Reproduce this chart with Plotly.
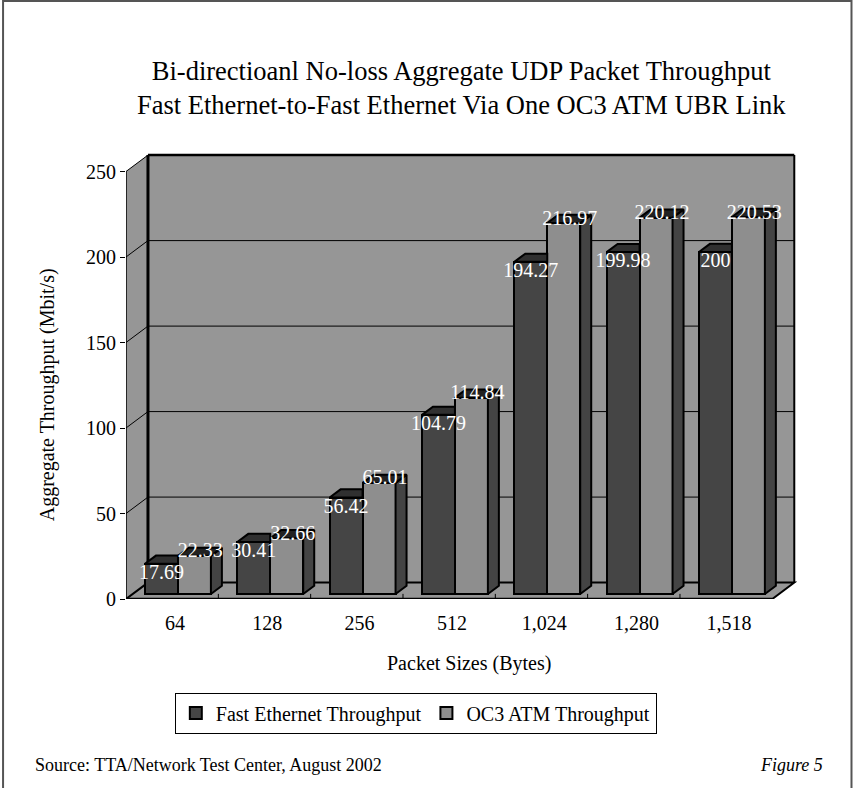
import plotly.graph_objects as go

# ---- data ----
packet_sizes = ["64", "128", "256", "512", "1,024", "1,280", "1,518"]
fast_ethernet = [17.69, 30.41, 56.42, 104.79, 194.27, 199.98, 200]
oc3_atm = [22.33, 32.66, 65.01, 114.84, 216.97, 220.12, 220.53]
y_ticks = [0, 50, 100, 150, 200, 250]

FONT = "Liberation Serif, serif"

# ---- pseudo-3D geometry (category units on x, value units on y) ----
N = len(packet_sizes)
WX, WY = 0.238, 9.6          # depth of the back wall
FX, FY = 0.0714, 2.9         # front face of the bars sits a bit inside the floor
DX, DY = 0.119, 4.8          # depth of each bar
BW = 0.357                   # width of each bar
DARK_L = 0.2056              # left edge of the first bar in a category
YMAX = y_ticks[-1]

dark_front = "#454545"
light_front = "#8e8e8e"
wall = "#969696"

fig = go.Figure()

# front faces of the bars
dark_x = [i + DARK_L + BW / 2 for i in range(N)]
light_x = [i + DARK_L + BW * 1.5 for i in range(N)]
fig.add_trace(go.Bar(
    x=dark_x, y=fast_ethernet, base=FY, width=BW,
    name="Fast Ethernet Throughput",
    marker=dict(color=dark_front, line=dict(color="black", width=2)),
    hoverinfo="skip"))
fig.add_trace(go.Bar(
    x=light_x, y=oc3_atm, base=FY, width=BW,
    name="OC3 ATM Throughput",
    marker=dict(color=light_front, line=dict(color="black", width=2)),
    hoverinfo="skip"))


def poly_trace(xs, ys, color):
    return go.Scatter(x=xs, y=ys, mode="lines", fill="toself", fillcolor=color,
                      line=dict(color="black", width=2), showlegend=False,
                      hoverinfo="skip")


# top faces of the dark bars (the part hidden by the taller light bar is left out)
tx, ty = [], []
for i, v in enumerate(fast_ethernet):
    xl = i + DARK_L
    xr = xl + BW
    t = v + FY
    tx += [xl, xr, xr, xl + DX, xl, None]
    ty += [t, t, t + DY, t + DY, t, None]
fig.add_trace(poly_trace(tx, ty, "#303030"))

# side and top faces of the light bars
sx, sy, ux, uy = [], [], [], []
for i, v in enumerate(oc3_atm):
    xl = i + DARK_L + BW
    xr = xl + BW
    t = v + FY
    sx += [xr, xr, xr + DX, xr + DX, xr, None]
    sy += [FY, t, t + DY, FY + DY, FY, None]
    ux += [xl, xr, xr + DX, xl + DX, xl, None]
    uy += [t, t, t + DY, t + DY, t, None]
fig.add_trace(poly_trace(sx, sy, "#444444"))
fig.add_trace(poly_trace(ux, uy, "#222222"))

# value labels
lbl_font = dict(family=FONT, size=20, color="white")
fig.add_trace(go.Scatter(
    x=dark_x, y=[v + FY - 6 for v in fast_ethernet], mode="text",
    text=[f"{v:g}" for v in fast_ethernet], textfont=lbl_font,
    showlegend=False, hoverinfo="skip"))
fig.add_trace(go.Scatter(
    x=[x + 0.064 for x in light_x], y=[v + FY + 2 for v in oc3_atm], mode="text",
    text=[f"{v:g}" for v in oc3_atm], textfont=lbl_font,
    showlegend=False, hoverinfo="skip"))

# ---- walls, floor and grid ----
shapes = []
# back wall
shapes.append(dict(type="rect", xref="x", yref="y", x0=WX, x1=N + WX, y0=WY, y1=YMAX + WY,
                   fillcolor=wall, line=dict(width=0), layer="below"))
# side wall
shapes.append(dict(type="path", xref="x", yref="y",
                   path=f"M0,0 L{WX},{WY} L{WX},{YMAX + WY} L0,{YMAX} Z",
                   fillcolor=wall, line=dict(width=0), layer="below"))
# floor
shapes.append(dict(type="path", xref="x", yref="y",
                   path=f"M0,0 L{N},0 L{N + WX},{WY} L{WX},{WY} Z",
                   fillcolor=wall, line=dict(color="black", width=2), layer="below"))
# grid lines on back and side walls
for v in y_ticks[1:-1]:
    shapes.append(dict(type="line", xref="x", yref="y", x0=WX, x1=N + WX,
                       y0=v + WY, y1=v + WY, line=dict(color="black", width=1), layer="below"))
for v in y_ticks[1:]:
    shapes.append(dict(type="line", xref="x", yref="y", x0=0, x1=WX,
                       y0=v, y1=v + WY, line=dict(color="black", width=1), layer="below"))
# wall edges
shapes.append(dict(type="line", xref="x", yref="y", x0=WX, x1=WX, y0=WY, y1=YMAX + WY,
                   line=dict(color="black", width=3), layer="below"))
shapes.append(dict(type="line", xref="x", yref="y", x0=WX, x1=N + WX, y0=YMAX + WY, y1=YMAX + WY,
                   line=dict(color="black", width=2.5), layer="below"))
shapes.append(dict(type="line", xref="x", yref="y", x0=N + WX, x1=N + WX, y0=WY, y1=YMAX + WY,
                   line=dict(color="black", width=2), layer="below"))
shapes.append(dict(type="line", xref="x", yref="y", x0=0, x1=0, y0=0, y1=YMAX,
                   line=dict(color="black", width=1.5), layer="below"))
# floor front edge and category ticks
shapes.append(dict(type="line", xref="x", yref="y", x0=0, x1=N, y0=0, y1=0,
                   line=dict(color="black", width=2.5), layer="below"))
for i in range(1, N):
    shapes.append(dict(type="line", xref="x", yref="y", x0=i, x1=i, y0=0, y1=3,
                       line=dict(color="black", width=1), layer="below"))
# outer frame (bottom edge runs past the page)
shapes.append(dict(type="rect", xref="paper", yref="paper", x0=-0.1824, x1=1.0764,
                   y0=-0.52, y1=1.3348, line=dict(color="#555555", width=2)))

annotations = [
    dict(text="Bi-directioanl No-loss Aggregate UDP Packet Throughput<br>"
              "Fast Ethernet-to-Fast Ethernet Via One OC3 ATM UBR Link",
         xref="paper", yref="paper", x=0.498, y=1.1406, xanchor="center", yanchor="middle",
         showarrow=False, font=dict(family=FONT, size=26.5, color="black")),
    dict(text="Aggregate Throughput (Mbit/s)", textangle=-90,
         xref="paper", yref="paper", x=-0.117, y=0.455, xanchor="center", yanchor="middle",
         showarrow=False, font=dict(family=FONT, size=20, color="black")),
    dict(text="Packet Sizes (Bytes)",
         xref="paper", yref="paper", x=0.5085, y=-0.143, xanchor="center", yanchor="middle",
         showarrow=False, font=dict(family=FONT, size=20, color="black")),
    dict(text="Source: TTA/Network Test Center, August 2002",
         xref="paper", yref="paper", x=-0.1379, y=-0.3705, xanchor="left", yanchor="middle",
         showarrow=False, font=dict(family=FONT, size=18, color="black")),
    dict(text="<i>Figure 5</i>",
         xref="paper", yref="paper", x=1.0378, y=-0.3705, xanchor="right", yanchor="middle",
         showarrow=False, font=dict(family=FONT, size=18, color="black")),
]

fig.update_layout(
    width=857, height=788,
    margin=dict(l=126, r=56.5, t=151, b=189),
    paper_bgcolor="white", plot_bgcolor="white",
    barmode="overlay", bargap=0,
    shapes=shapes, annotations=annotations,
    showlegend=True,
    legend=dict(orientation="h", x=0.43, xanchor="center", y=-0.2545, yanchor="middle",
                bordercolor="black", borderwidth=1, bgcolor="white",
                font=dict(family=FONT, size=20, color="black"), itemwidth=30,
                traceorder="normal"),
    xaxis=dict(range=[0, 7.30], showgrid=False, zeroline=False, showline=False,
               tickmode="array", tickvals=[i + 0.53 for i in range(N)], ticktext=packet_sizes,
               ticks="", tickfont=dict(family=FONT, size=20, color="black"),
               ticklabelstandoff=10, fixedrange=True),
    yaxis=dict(range=[0, 262], showgrid=False, zeroline=False, showline=False,
               tickmode="array", tickvals=y_ticks, ticks="outside", ticklen=5,
               tickcolor="black", tickwidth=1,
               tickfont=dict(family=FONT, size=20, color="black"), fixedrange=True),
)

fig.write_html("out.html")
